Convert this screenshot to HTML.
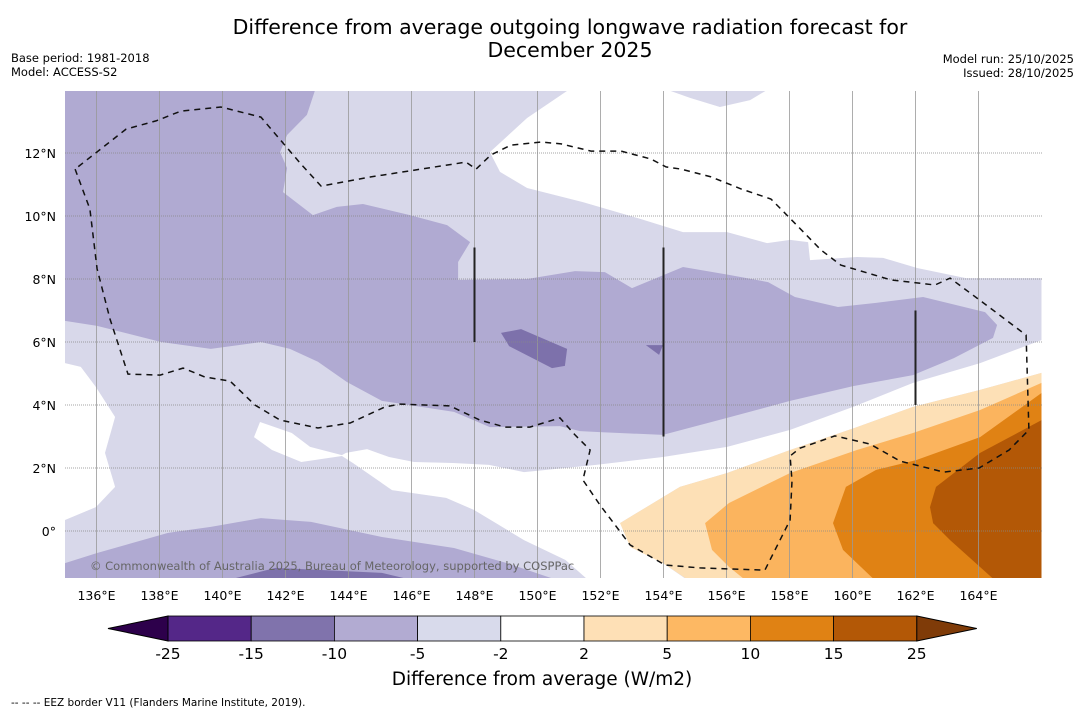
<!DOCTYPE html>
<html><head><meta charset="utf-8"><style>
body{margin:0;background:#fff;width:1085px;height:713px;overflow:hidden;font-family:"DejaVu Sans","Liberation Sans",sans-serif}
svg{position:absolute;left:0;top:0}
</style></head><body>
<svg id="chart" width="1085" height="713">
<text x="570" y="34" text-anchor="middle" font-size="20.5">Difference from average outgoing longwave radiation forecast for</text>
<text x="570" y="57" text-anchor="middle" font-size="20.5">December 2025</text>
<text x="11" y="62" font-size="11.5">Base period: 1981-2018</text>
<text x="11" y="76" font-size="11.5">Model: ACCESS-S2</text>
<text x="1074" y="63" font-size="11.5" text-anchor="end">Model run: 25/10/2025</text>
<text x="1074" y="77" font-size="11.5" text-anchor="end">Issued: 28/10/2025</text>
<defs><clipPath id="mapclip"><rect x="65" y="91" width="977" height="487"/></clipPath></defs>
<g id="map" clip-path="url(#mapclip)"></g>
<g id="axes"></g>
<g id="cbar"></g>
<text x="542" y="685" text-anchor="middle" font-size="18.5">Difference from average (W/m2)</text>
<text x="11" y="706" font-size="10.5">--  --  -- EEZ border V11 (Flanders Marine Institute, 2019).</text>
</svg>
<script>
const lonTicks=[136,138,140,142,144,146,148,150,152,154,156,158,160,162,164];
const latTicks=[0,2,4,6,8,10,12];
const cbarBounds=[-25,-15,-10,-5,-2,2,5,10,15,25];
const cbarColors=['#542788','#8073ac','#b2abd2','#d8daeb','#ffffff','#fee0b6','#fdb863','#e08214','#b35806'];
const lightRegion=[[135,14],[166,14],[166,-1.6],[135,-1.6]];
const whiteUpper=[[150.94,13.97],[149.67,13.11],[148.49,12.03],[148.81,11.4],[149.67,10.89],[151.44,10.44],[153.16,9.94],[154.62,9.49],[156.02,9.49],[157.29,9.14],[158.02,9.24],[158.59,9.17],[158.65,8.6],[160.14,8.7],[160.97,8.67],[162.05,8.35],[163.6,8.03],[166,8.03],[166,14],[157.29,14],[156.75,13.68],[155.79,13.46],[154.84,13.75],[154.14,14]];
const whiteLeft=[[135,5.33],[135.5,5.21],[135.98,4.57],[136.59,3.62],[136.27,2.48],[136.59,1.4],[135.98,0.76],[135,0.35]];
const whiteLower=[[141.19,3.46],[142.2,3.11],[142.78,2.67],[143.79,2.41],[143.92,2.48],[144.59,2.6],[145.29,2.35],[146.08,2.19],[147.32,2.16],[148.46,2.1],[149.57,1.87],[151.86,2.1],[153.98,2.35],[156.02,2.67],[158.02,3.21],[160.02,3.94],[161.92,4.7],[164.05,5.33],[166,6.06],[166,5.02],[164.05,4.48],[161.92,3.94],[160.14,3.3],[158.02,2.57],[156.02,1.84],[154.52,1.4],[152.62,0.25],[153.25,-0.44],[153.98,-1.02],[154.75,-1.55],[151.6,-1.55],[150.89,-0.92],[149.57,-0.29],[147.98,0.67],[147.1,1.05],[145.38,1.3],[144.14,2.16],[143.79,2.38],[142.5,2.19],[141.57,2.57],[141.0,2.98]];
const midRegion=[[135,14],[142.94,14],[142.68,13.21],[142.05,12.57],[141.83,12.03],[142.05,11.52],[141.92,10.76],[142.87,10.03],[143.63,10.29],[144.46,10.38],[145.95,10.03],[147.13,9.71],[147.86,9.17],[147.48,8.54],[147.48,7.97],[149.67,8.0],[151.19,8.25],[152.14,8.22],[153.0,7.71],[154.62,8.38],[156.08,8.13],[157.32,7.9],[158.17,7.43],[159.54,7.11],[160.75,7.24],[162.24,7.43],[164.21,6.95],[164.59,6.54],[164.46,6.13],[163.22,5.49],[161.92,4.95],[160.02,4.6],[158.02,4.13],[156.02,3.59],[153.98,3.05],[151.98,3.14],[151.35,3.17],[150.71,3.33],[148.49,3.3],[147.35,3.78],[145.06,4.13],[143.95,4.73],[143.03,5.37],[142.14,5.78],[141.22,6.0],[139.63,5.78],[138.05,6.0],[136.02,6.51],[135,6.67]];
const midBottom=[[135,-1.6],[135,-1.02],[136.02,-0.7],[138.27,-0.06],[139.63,0.13],[141.22,0.41],[142.81,0.29],[145.06,-0.19],[147.35,-0.54],[149.03,-1.02],[150.75,-1.6]];
const darkPatches=[
 [[148.84,6.29],[149.48,6.41],[150.94,5.78],[150.87,5.24],[150.46,5.17],[149.1,5.87]],
 [[153.44,5.9],[153.98,5.9],[153.86,5.59]],
 [[140.0,-1.6],[141.68,-1.17],[145.06,-1.33],[146.2,-1.6]]];
const orange1=[[152.62,0.25],[154.52,1.4],[156.02,1.84],[158.02,2.57],[160.14,3.3],[161.92,3.94],[164.05,4.48],[166,5.02],[166,-1.6],[154.85,-1.6],[153.98,-1.02],[152.95,-0.51]];
const orange2=[[155.32,0.25],[156.08,0.89],[158.02,1.84],[160.14,2.57],[161.92,3.11],[164.05,3.84],[166,4.7],[166,-1.6],[156.65,-1.6],[156.08,-1.14],[155.54,-0.6]];
const orange3=[[159.38,0.25],[159.79,1.40],[160.75,1.94],[162.02,2.25],[164.05,2.98],[166,4.38],[166,-1.6],[160.75,-1.6],[159.7,-0.6]];
const orange4=[[162.65,1.4],[162.46,0.76],[162.56,0.25],[163.1,-0.29],[164.56,-1.6],[166,-1.6],[166,3.52],[164.05,2.48]];
const eezLine=[[135.32,11.49],[135.79,10.22],[136.02,8.32],[136.43,6.73],[137.0,4.98],[138.02,4.95],[138.75,5.17],[139.44,4.89],[140.24,4.76],[141.03,4.0],[141.83,3.52],[143.03,3.27],[144.05,3.43],[145.16,3.94],[145.63,4.03],[147.22,3.97],[148.17,3.52],[148.97,3.3],[149.76,3.3],[150.71,3.59],[151.19,3.05],[151.67,2.57],[151.44,1.62],[151.98,0.83],[152.94,-0.44],[154.05,-1.08],[155.16,-1.17],[157.22,-1.24],[158.02,0.35],[158.08,1.59],[158.02,2.38],[158.33,2.63],[159.44,3.02],[160.56,2.76],[161.51,2.22],[162.9,1.87],[164.02,2.0],[164.97,2.57],[165.6,3.21],[165.51,6.22],[164.33,7.11],[163.1,8.03],[162.62,7.81],[161.22,7.97],[159.63,8.44],[159.0,8.92],[157.73,10.22],[157.41,10.54],[156.46,10.86],[155.51,11.24],[154.56,11.49],[154.08,11.56],[153.6,11.81],[152.65,12.06],[151.7,12.06],[150.75,12.29],[150.11,12.35],[149.16,12.25],[148.52,11.94],[148.05,11.49],[147.73,11.71],[146.3,11.49],[144.71,11.24],[143.13,10.95],[142.49,11.65],[141.22,13.14],[139.95,13.46],[138.68,13.33],[137.89,13.02],[136.94,12.76],[136.14,12.13],[135.32,11.49]];
const reefLines=[[148,9,3],[154,9,6],[162,7,3]];

const X=lon=>65+(lon-135)*31.5;
const Y=lat=>531-lat*31.5;
const NS='http://www.w3.org/2000/svg';
const map=document.getElementById('map');
function poly(pts,fill,name){
  const p=document.createElementNS(NS,'polygon');
  p.setAttribute('points',pts.map(d=>X(d[0]).toFixed(1)+','+Y(d[1]).toFixed(1)).join(' '));
  p.setAttribute('fill',fill);
  
  
  map.appendChild(p);
}
poly(lightRegion,'#d8d8ea','contour-minus5-to-minus2');
poly(whiteUpper,'#ffffff','contour-near-normal-north');
poly(whiteLeft,'#ffffff','contour-near-normal-west');
poly(whiteLower,'#ffffff','contour-near-normal-central');
poly(midRegion,'#b0aad2','contour-minus10-to-minus5');
poly(midBottom,'#b0aad2','contour-minus10-to-minus5-south');
darkPatches.forEach(d=>poly(d,'#7d71ab','contour-minus15-to-minus10'));
poly(orange1,'#fde0b6','contour-2-to-5');
poly(orange2,'#fbb45e','contour-5-to-10');
poly(orange3,'#e08214','contour-10-to-15');
poly(orange4,'#b35806','contour-15-to-25');
lonTicks.forEach(l=>{
  const g=document.createElementNS(NS,'line');
  g.setAttribute('x1',X(l));g.setAttribute('x2',X(l));g.setAttribute('y1',91);g.setAttribute('y2',578);
  g.setAttribute('stroke','#999');g.setAttribute('stroke-width','0.8');
  
  
  map.appendChild(g);
});
latTicks.forEach(l=>{
  const g=document.createElementNS(NS,'line');
  g.setAttribute('y1',Y(l));g.setAttribute('y2',Y(l));g.setAttribute('x1',65);g.setAttribute('x2',1042);
  g.setAttribute('stroke','#888');g.setAttribute('stroke-width','0.7');g.setAttribute('stroke-dasharray','1,1');
  
  
  map.appendChild(g);
});
reefLines.forEach(r=>{
  const g=document.createElementNS(NS,'line');
  g.setAttribute('x1',X(r[0]));g.setAttribute('x2',X(r[0]));g.setAttribute('y1',Y(r[1]));g.setAttribute('y2',Y(r[1]-r[2]));
  g.setAttribute('stroke','#222');g.setAttribute('stroke-width','2');
  
  
  map.appendChild(g);
});
const eez=document.createElementNS(NS,'polyline');
eez.setAttribute('points',eezLine.map(d=>X(d[0]).toFixed(1)+','+Y(d[1]).toFixed(1)).join(' '));
eez.setAttribute('fill','none');eez.setAttribute('stroke','#111');eez.setAttribute('stroke-width','1.5');eez.setAttribute('stroke-dasharray','6,5');


map.appendChild(eez);
const cp=document.createElementNS(NS,'text');
cp.setAttribute('x',90);cp.setAttribute('y',570);cp.setAttribute('font-size','11.5');cp.setAttribute('fill','#666');
cp.textContent='© Commonwealth of Australia 2025, Bureau of Meteorology, supported by COSPPac';


map.appendChild(cp);
const axes=document.getElementById('axes');
lonTicks.forEach(l=>{
  const t=document.createElementNS(NS,'text');
  t.setAttribute('x',X(l));t.setAttribute('y',600);t.setAttribute('text-anchor','middle');t.setAttribute('font-size','12.5');
  t.textContent=l+'°E';
  
  
  axes.appendChild(t);
});
latTicks.forEach(l=>{
  const t=document.createElementNS(NS,'text');
  t.setAttribute('x',56);t.setAttribute('y',Y(l)+5);t.setAttribute('text-anchor','end');t.setAttribute('font-size','12.5');
  t.textContent=l===0?'0°':l+'°N';
  
  
  axes.appendChild(t);
});
const cb=document.getElementById('cbar');
const cx0=168,cw=83.2,cy=616,ch=25;
cbarColors.forEach((c,i)=>{
  const r=document.createElementNS(NS,'rect');
  r.setAttribute('x',cx0+i*cw);r.setAttribute('y',cy);r.setAttribute('width',cw);r.setAttribute('height',ch);
  r.setAttribute('fill',c);r.setAttribute('stroke','#000');r.setAttribute('stroke-width','0.8');
  
  
  cb.appendChild(r);
});
const tl=document.createElementNS(NS,'polygon');
tl.setAttribute('points',`108,${cy+ch/2} ${cx0},${cy} ${cx0},${cy+ch}`);tl.setAttribute('fill','#2d004b');tl.setAttribute('stroke','#000');


cb.appendChild(tl);
const xe=cx0+cbarColors.length*cw;
const tr=document.createElementNS(NS,'polygon');
tr.setAttribute('points',`${xe},${cy} ${xe+60},${cy+ch/2} ${xe},${cy+ch}`);tr.setAttribute('fill','#7f3b08');tr.setAttribute('stroke','#000');


cb.appendChild(tr);
cbarBounds.forEach((b,i)=>{
  const t=document.createElementNS(NS,'text');
  t.setAttribute('x',cx0+i*cw);t.setAttribute('y',659);t.setAttribute('text-anchor','middle');t.setAttribute('font-size','15.5');
  t.textContent=b;
  
  
  cb.appendChild(t);
});
</script>
</body></html>
